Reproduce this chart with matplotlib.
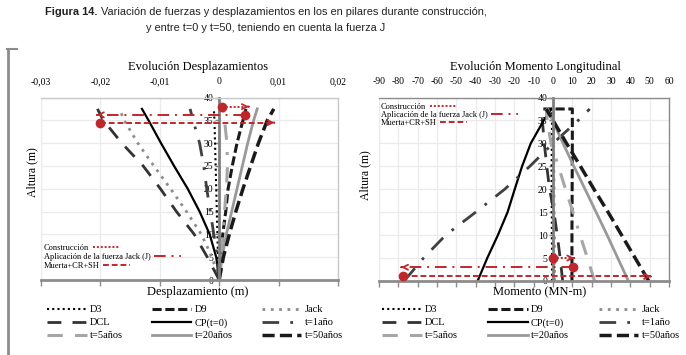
import matplotlib
matplotlib.use('Agg')
import matplotlib.pyplot as plt
from matplotlib.lines import Line2D

# alturas (m) comunes a todas las series
alturas = [0, 5, 10, 15, 20, 25, 30, 35, 37.5]

# desplazamientos (m)
d3_des = [0, -0.0002, -0.0003, -0.0004, -0.0005, -0.0006, -0.0007, -0.0008, -0.0009]
d9_des = [0, 0.0002, 0.0006, 0.0011, 0.0015, 0.0022, 0.003, 0.004, 0.0045]
jack_des = [0, -0.0012, -0.003, -0.0055, -0.0082, -0.011, -0.0137, -0.016, -0.0168]
dcl_des = [0, -0.002, -0.0042, -0.0072, -0.0099, -0.0128, -0.0164, -0.0195, -0.0205]
cp_des = [0, -0.0005, -0.0016, -0.0033, -0.0053, -0.0076, -0.0098, -0.0119, -0.013]
t1_des = [0, -0.0003, -0.0009, -0.0015, -0.0021, -0.0026, -0.0033, -0.0044, -0.0049]
t5_des = [0, 0.0003, 0.0006, 0.0009, 0.0012, 0.0014, 0.0013, 0.0009, 0.0007]
t20_des = [0, 0.0005, 0.0012, 0.0021, 0.003, 0.0039, 0.0048, 0.0058, 0.0064]
t50_des = [0, 0.0007, 0.0017, 0.0028, 0.004, 0.0053, 0.0066, 0.0081, 0.0092]

# momento longitudinal (MN-m)
d3_mom = [-0.5, -0.5, -0.6, -0.6, -0.7, -0.7, -0.6, -0.5, -0.5]
alturas_d9_mom = [0, 10, 20, 30, 37.5, 37.5]
d9_mom = [9.8, 9.8, 9.9, 10, 10, -5]
jack_mom = [0.8, 0.8, 0.7, 0.6, 0.5, 0.4, 0.3, 0.2, 0.1]
dcl_mom = [5, 3.7, 2.2, 0.5, -1.8, -3.2, -4.5, -5.5, -6]
cp_mom = [-39, -34, -28.5, -23.5, -19.8, -16, -11.5, -4.8, -0.8]
t1_mom = [-77, -67, -55.5, -40, -25, -12, 0, 13, 19]
t5_mom = [21.5, 17.8, 14, 10.3, 6.5, 2.8, -1, -3, -3.5]
t20_mom = [39, 33.5, 28, 22.3, 16.6, 10.8, 5.2, -0.2, -2.8]
t50_mom = [49.5, 42.5, 35.5, 28.5, 21.2, 14.2, 7, 0, -3.5]

# flechas rojas: Construccion, Aplicacion Jack, Muerta+CR+SH
flechas_nombres = ['Construcción', 'Aplicación de la fuerza Jack (J)', 'Muerta+CR+SH']
flechas_y_des = [38, 36.2, 34.5]
flechas_ini_des = [0.0005, 0.0043, -0.020]
flechas_fin_des = [0.005, -0.0206, 0.0093]
flechas_y_mom = [5, 3, 1]
flechas_ini_mom = [0, 10.2, -77.6]
flechas_fin_mom = [11, -78.6, 50.7]

xticks_des = [-0.03, -0.02, -0.01, 0, 0.01, 0.02]
xticks_mom = list(range(-90, 61, 10))
yticks = [0, 5, 10, 15, 20, 25, 30, 35, 40]

nombres = ['D3', 'D9', 'Jack', 'DCL', 'CP(t=0)', 't=1año', 't=5años', 't=20años', 't=50años']

estilos = {
    'D3': dict(color='black', lw=1.5, ls=(0, (1, 1.5))),
    'D9': dict(color='#1a1a1a', lw=2.2, ls=(0, (3, 1.2))),
    'Jack': dict(color='#8c8c8c', lw=2, ls=(0, (1, 2))),
    'DCL': dict(color='#333333', lw=2, ls=(0, (5, 4))),
    'CP(t=0)': dict(color='black', lw=1.6, ls='-'),
    't=1año': dict(color='#404040', lw=2, ls=(0, (6, 4, 1, 4))),
    't=5años': dict(color='#a6a6a6', lw=2.2, ls=(0, (5, 4, 5, 4, 1, 4))),
    't=20años': dict(color='#999999', lw=2, ls='-'),
    't=50años': dict(color='#1a1a1a', lw=2.5, ls=(0, (3.5, 1.5))),
}
rojo = '#c0272d'
estilos_rojos = [(0, (1, 1)), (0, (6, 3, 1, 3)), (0, (3, 1.5))]

serif = 'Liberation Serif'
plt.rcParams['font.family'] = serif

W, H = 686, 355
fig = plt.figure(figsize=(W / 100, H / 100), dpi=100)
ax1 = fig.add_axes([41 / W, 1 - 280 / H, 297 / W, 182.5 / H])
ax2 = fig.add_axes([379 / W, 1 - 281 / H, 290 / W, 183.5 / H])


def flecha(ax, x0, x1, y, ls):
    ax.plot([x0, x1], [y, y], color=rojo, ls=ls, lw=1.4, zorder=5)
    ax.plot(x0, y, 'o', color=rojo, ms=6, zorder=6)
    dx = (x1 - x0) * 0.002
    ax.annotate('', xy=(x1, y), xytext=(x1 - dx, y),
                arrowprops=dict(arrowstyle='->', color=rojo, lw=1.3,
                                mutation_scale=9, shrinkA=0, shrinkB=0),
                zorder=6)


def ejes(ax, xlim, xticks, xlabels, marco):
    ax.set_xlim(xlim)
    ax.set_ylim(0, 40)
    ax.set_xticks(xticks)
    ax.set_xticklabels(xlabels)
    ax.set_yticks(yticks)
    ax.grid(True, color='#ebebeb', lw=0.9)
    ax.set_axisbelow(True)
    ax.spines['left'].set_position(('data', 0))
    ax.spines['left'].set_color('#7f7f7f')
    ax.spines['left'].set_linewidth(2)
    ax.spines['bottom'].set_color('#8c8c8c')
    ax.spines['bottom'].set_linewidth(2)
    for s in ['top', 'right']:
        ax.spines[s].set_color(marco)
        ax.spines[s].set_linewidth(1)
    ax.axvline(xlim[0], color=marco, lw=1.5, zorder=0.5)
    ax.tick_params(axis='x', bottom=True, top=False, labelbottom=False,
                   labeltop=True, direction='out', length=4, width=1,
                   color='#8c8c8c', labelsize=7, pad=4)
    ax.tick_params(axis='y', direction='out', length=3, width=1,
                   color='#7f7f7f', labelsize=7, pad=1)


def fmt(v):
    if v == 0:
        return '0'
    return ('%.2f' % v).replace('.', ',')


# ---- Desplazamientos
series_des = [d3_des, d9_des, jack_des, dcl_des, cp_des, t1_des, t5_des, t20_des, t50_des]
for n, xs in zip(nombres, series_des):
    ax1.plot(xs, alturas, **estilos[n])
for i in range(3):
    flecha(ax1, flechas_ini_des[i], flechas_fin_des[i], flechas_y_des[i], estilos_rojos[i])
ejes(ax1, (-0.03, 0.02), xticks_des, [fmt(v) for v in xticks_des], '#c8c8c8')

# ---- Momentos
series_mom = [d3_mom, None, jack_mom, dcl_mom, cp_mom, t1_mom, t5_mom, t20_mom, t50_mom]
for n, xs in zip(nombres, series_mom):
    if n == 'D9':
        ax2.plot(d9_mom, alturas_d9_mom, **estilos[n])
    else:
        ax2.plot(xs, alturas, **estilos[n])
for i in range(3):
    flecha(ax2, flechas_ini_mom[i], flechas_fin_mom[i], flechas_y_mom[i], estilos_rojos[i])
ejes(ax2, (-90, 60), xticks_mom, [str(v) for v in xticks_mom], '#8c8c8c')

# leyendas rojas internas: una por fila, texto alineado a la izquierda
h_rojos = [Line2D([], [], color=rojo, lw=1.4, ls=s) for s in estilos_rojos]
for x0, ys in [(44, [248, 257, 266]), (381, [107, 115, 123])]:
    for h, nom, y in zip(h_rojos, flechas_nombres, ys):
        fig.legend([h], [nom], loc='center left', bbox_to_anchor=(x0 / W, 1 - y / H),
                   frameon=False, markerfirst=False, fontsize=6, handlelength=3.2,
                   handletextpad=0.4, borderpad=0, borderaxespad=0)

# textos
fig.text(198 / W, 1 - 67 / H, 'Evolución Desplazamientos', ha='center', va='center', fontsize=9)
fig.text(535 / W, 1 - 67 / H, 'Evolución Momento Longitudinal', ha='center', va='center', fontsize=9)
fig.text(198 / W, 1 - 292 / H, 'Desplazamiento (m)', ha='center', va='center', fontsize=9)
fig.text(540 / W, 1 - 292 / H, 'Momento (MN-m)', ha='center', va='center', fontsize=9)
fig.text(32 / W, 1 - 172 / H, 'Altura (m)', ha='center', va='center', rotation=90, fontsize=8.5)
fig.text(365 / W, 1 - 175 / H, 'Altura (m)', ha='center', va='center', rotation=90, fontsize=8.5)

# leyendas inferiores (orden por columnas)
orden = ['D3', 'DCL', 't=5años', 'D9', 'CP(t=0)', 't=20años', 'Jack', 't=1año', 't=50años']
hs = [Line2D([], [], **estilos[n]) for n in orden]
for x0, cs in [(47, 2.8), (382, 2.9)]:
    fig.legend(hs, orden, loc='upper left', bbox_to_anchor=(x0 / W, 1 - 305 / H),
               ncol=3, frameon=False, fontsize=7.5, handlelength=3.8,
               handletextpad=0.3, columnspacing=cs, labelspacing=0.35,
               borderpad=0, borderaxespad=0)

# marco de la figura
fig.add_artist(Line2D([8 / W, 8 / W], [0, 1 - 49 / H], color='#8c8c8c', lw=2))
fig.add_artist(Line2D([7 / W, 17 / W], [1 - 49 / H, 1 - 49 / H], color='#8c8c8c', lw=1.5))

# titulo (ajustado al ancho del original, ~432 px)
sans = ['Liberation Sans Narrow', 'Liberation Sans']
fig.canvas.draw()
r = fig.canvas.get_renderer()
ya = 1 - 12 / H
t1 = fig.text(0, ya, 'Figura 14.', fontweight='bold', fontsize=10, family=sans, va='center', color='#222222')
t2 = fig.text(0, ya, ' Variación de fuerzas y desplazamientos en los en pilares durante construcción,',
              fontsize=10, family=sans, va='center', color='#222222')
w = t1.get_window_extent(r).width + t2.get_window_extent(r).width
fs = 10 * min(1, 440 / w)
t1.set_fontsize(fs)
t2.set_fontsize(fs)
w1 = t1.get_window_extent(r).width
w2 = t2.get_window_extent(r).width
x0 = 266 - (w1 + w2) / 2
t1.set_x(x0 / W)
t2.set_x((x0 + w1) / W)
fig.text(266 / W, 1 - 28 / H, 'y entre t=0 y t=50, teniendo en cuenta la fuerza J', ha='center',
         va='center', fontsize=fs, family=sans, color='#222222')

fig.savefig('out.png', dpi=100)
